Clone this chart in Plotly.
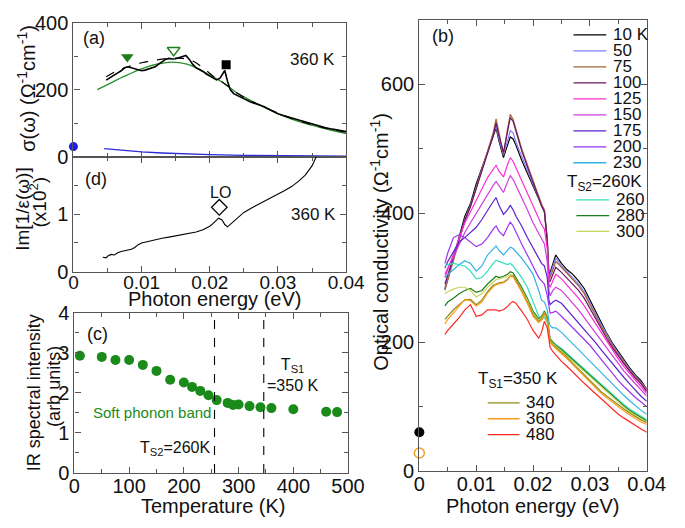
import plotly.graph_objects as go

FONT = "Liberation Sans, Arial, Helvetica, sans-serif"
W, H = 685, 528

# ---------------- Panel (a): 360 K conductivity and fits ----------------
energy_a_exp = [0.0048, 0.0055, 0.006, 0.0065, 0.007, 0.0075, 0.008, 0.0085, 0.009, 0.0095,
                0.010, 0.0105, 0.011, 0.0115, 0.012, 0.0125, 0.013, 0.0135, 0.014, 0.0145,
                0.015, 0.0155, 0.016, 0.0165, 0.017, 0.0175, 0.018, 0.0185, 0.019, 0.0195,
                0.020, 0.0205, 0.021, 0.0215, 0.022, 0.0222, 0.0226, 0.023, 0.0235, 0.024,
                0.025, 0.026, 0.027, 0.028, 0.029, 0.030, 0.031, 0.032, 0.033, 0.034,
                0.035, 0.036, 0.037, 0.038, 0.039, 0.040]
sigma_a_exp = [228, 238, 244, 250, 256, 265, 268, 265, 262, 258,
               256, 258, 262, 265, 268, 276, 284, 290, 293, 291,
               292, 296, 300, 302, 290, 275, 265, 260, 254, 246,
               240, 234, 229, 234, 250, 257, 225, 200, 188, 183,
               172, 163, 156, 149, 138, 128, 121, 115, 109, 102,
               96, 91, 86, 82, 78, 75]
energy_a_fit = [0.0048, 0.006, 0.008, 0.010, 0.012, 0.014, 0.016, 0.0175, 0.019, 0.0205,
                0.022, 0.024, 0.026, 0.028, 0.030, 0.032, 0.034, 0.036, 0.038, 0.040]
sigma_a_fit = [238, 252, 268, 280, 288, 293, 293, 285, 265, 240,
               220, 190, 166, 148, 130, 114, 101, 90, 81, 73]
energy_a_soft = [0.0035, 0.005, 0.0075, 0.010, 0.0125, 0.0145, 0.0165, 0.018, 0.020, 0.022,
                 0.024, 0.026, 0.028, 0.030, 0.032, 0.034, 0.036, 0.038, 0.040]
sigma_a_soft = [200, 215, 240, 262, 277, 282, 277, 265, 243, 220,
                190, 168, 147, 128, 112, 99, 88, 78, 69]
energy_a_drude = [0.0045, 0.006, 0.008, 0.010, 0.013, 0.016, 0.020, 0.025, 0.030, 0.035, 0.040]
sigma_a_drude = [24, 21, 17, 14, 11, 8, 6, 4, 3, 2, 1.5]
dc_a = [0.0, 30]
mark_soft_low = [0.0079, 297]
mark_soft_peak = [0.0147, 317]
mark_phonon = [0.0224, 274]

# ---------------- Panel (d): loss function ----------------
energy_d = [0.0043, 0.0048, 0.005, 0.0055, 0.006, 0.0065, 0.007, 0.0075, 0.008, 0.0085,
            0.009, 0.0095, 0.010, 0.011, 0.012, 0.013, 0.014, 0.015, 0.016, 0.017,
            0.018, 0.019, 0.020, 0.0205, 0.021, 0.0213, 0.0218, 0.0222, 0.0226, 0.023,
            0.024, 0.025, 0.026, 0.027, 0.028, 0.029, 0.030, 0.031, 0.032, 0.033,
            0.034, 0.035, 0.0355, 0.0358]
loss_d = [0.25, 0.24, 0.27, 0.30, 0.29, 0.33, 0.35, 0.36, 0.38, 0.39,
          0.42, 0.47, 0.50, 0.53, 0.55, 0.58, 0.60, 0.62, 0.64, 0.66,
          0.69, 0.73, 0.79, 0.84, 0.90, 0.93, 0.90, 0.82, 0.78, 0.82,
          0.93, 1.03, 1.10, 1.16, 1.22, 1.28, 1.34, 1.41, 1.48, 1.57,
          1.68, 1.84, 1.97, 2.05]
lo_mark = [0.0214, 1.12]

# ---------------- Panel (c): spectral intensity ----------------
temps_c = [10, 50, 75, 100, 125, 150, 175, 200, 215, 230, 245, 260, 280, 290, 300,
           320, 340, 360, 400, 460, 480]
intensity_c = [2.93, 2.90, 2.82, 2.82, 2.70, 2.55, 2.33, 2.26, 2.15, 2.05, 1.94, 1.82,
               1.75, 1.70, 1.71, 1.67, 1.64, 1.62, 1.59, 1.53, 1.52]
ts_lines = [256, 346]

# ---------------- Panel (b): temperature-dependent conductivity ----------------
energy_b = [0.0045, 0.005, 0.006, 0.007, 0.008, 0.009, 0.010, 0.011, 0.012, 0.013,
            0.0135, 0.014, 0.0148, 0.0155, 0.016, 0.0165, 0.017,
            0.018, 0.019, 0.020, 0.021, 0.0215, 0.022, 0.0225, 0.0228, 0.023, 0.0235, 0.024,
            0.025, 0.026, 0.027, 0.028, 0.029, 0.030, 0.031, 0.032, 0.033, 0.034,
            0.035, 0.036, 0.037, 0.038, 0.039, 0.040]
sigma_10K = [282, 298, 330, 362, 395, 415, 445, 470, 495, 520,
             532, 512, 486, 505, 518, 515, 505,
             482, 462, 442, 420, 410, 402, 360, 305, 308, 322, 335,
             322, 312, 305, 295, 283, 265, 248, 230, 213, 198, 185, 172, 160, 149, 140, 127]
sigma_50K = [285, 300, 330, 360, 390, 412, 442, 468, 494, 520,
             535, 515, 490, 512, 528, 524, 510,
             488, 466, 445, 422, 412, 404, 360, 302, 304, 318, 330,
             318, 309, 300, 290, 278, 260, 244, 227, 211, 196, 183, 170, 158, 147, 138, 126]
sigma_75K = [280, 296, 328, 358, 388, 410, 440, 468, 496, 525,
             546, 525, 491, 530, 553, 545, 530,
             500, 475, 450, 425, 414, 405, 358, 298, 300, 312, 325,
             316, 306, 297, 287, 275, 257, 241, 224, 208, 194, 181, 168, 157, 146, 137, 125]
sigma_100K = [290, 304, 332, 360, 388, 410, 438, 465, 492, 520,
              540, 520, 494, 528, 548, 542, 526,
              497, 472, 447, 422, 411, 402, 355, 294, 294, 305, 316,
              308, 299, 290, 280, 268, 252, 236, 220, 205, 191, 178, 166, 155, 144, 135, 123]
sigma_125K = [300, 312, 335, 360, 385, 402, 420, 438, 455, 468,
              474, 465, 456, 475, 486, 480, 470,
              450, 430, 410, 390, 382, 375, 345, 290, 285, 295, 305,
              298, 288, 278, 268, 256, 242, 228, 214, 200, 187, 174, 162, 151, 141, 131, 120]
sigma_150K = [305, 315, 332, 350, 370, 385, 400, 415, 430, 443,
              449, 442, 432, 448, 458, 452, 443,
              425, 405, 385, 368, 360, 352, 325, 280, 272, 280, 285,
              280, 270, 260, 250, 238, 226, 214, 202, 190, 178, 166, 155, 145, 135, 125, 116]
sigma_175K = [315, 325, 340, 355, 362, 370, 378, 390, 405, 418,
              424, 412, 398, 405, 412, 405, 395,
              380, 362, 345, 330, 322, 318, 300, 265, 258, 262, 265,
              260, 250, 240, 230, 220, 210, 199, 188, 177, 166, 155, 145, 135, 125, 116, 108]
sigma_200K = [322, 338, 362, 366, 362, 355, 348, 352, 362, 375,
              380, 372, 365, 378, 386, 380, 370,
              352, 335, 318, 300, 295, 290, 272, 250, 245, 246, 248,
              240, 231, 222, 213, 204, 195, 184, 173, 162, 151, 140, 131, 122, 114, 107, 100]
sigma_230K = [300, 305, 312, 320, 326, 322, 310, 318, 335, 345,
              349, 342, 335, 342, 347, 345, 340,
              330, 318, 305, 280, 265, 262, 250, 232, 225, 222, 222,
              215, 206, 197, 188, 180, 171, 161, 152, 143, 134, 125, 117, 109, 101, 94, 88]
sigma_260K = [318, 320, 322, 320, 318, 310, 298, 300, 310, 322,
              327, 325, 322, 320, 322, 318, 312,
              300, 285, 262, 240, 235, 238, 230, 214, 205, 200, 196,
              190, 182, 174, 166, 158, 150, 142, 134, 126, 118, 110, 103, 96, 90, 85, 80]
sigma_280K = [256, 262, 268, 275, 280, 283, 277, 280, 290, 298,
              302, 300, 302, 305, 309, 307, 300,
              285, 268, 248, 236, 240, 248, 238, 218, 205, 200, 195,
              188, 180, 172, 164, 156, 148, 140, 132, 124, 116, 108, 101, 94, 88, 83, 78]
sigma_300K = [275, 278, 282, 285, 285, 280, 270, 275, 285, 293,
              297, 298, 300, 302, 305, 303, 297,
              282, 265, 245, 234, 238, 246, 236, 215, 203, 198, 194,
              186, 178, 170, 162, 154, 146, 138, 130, 122, 114, 106, 99, 92, 86, 81, 76]
sigma_340K = [235, 240, 250, 258, 265, 266, 258, 265, 278, 288,
              290, 292, 293, 297, 302, 303, 296,
              280, 262, 243, 232, 236, 245, 235, 212, 202, 196, 192,
              185, 176, 167, 158, 149, 140, 131, 123, 116, 109, 102, 96, 90, 84, 79, 75]
sigma_360K = [228, 235, 245, 255, 266, 264, 256, 262, 276, 286,
              289, 290, 292, 296, 302, 301, 294,
              278, 260, 240, 230, 234, 243, 232, 210, 200, 194, 190,
              183, 174, 165, 156, 146, 137, 128, 120, 113, 106, 99, 93, 87, 81, 76, 72]
sigma_480K = [212, 218, 228, 238, 250, 258, 240, 242, 250, 250,
              250, 248, 250, 255, 260, 263, 260,
              248, 235, 218, 206, 215, 232, 222, 200, 192, 185, 180,
              170, 162, 153, 145, 136, 128, 120, 112, 104, 96, 88, 82, 76, 70, 65, 60]
dc_b_10K = [0.0, 60]
dc_b_360K = [0.0, 28]

labels_b = ["10 K", "50", "75", "100", "125", "150", "175", "200", "230",
            "260", "280", "300", "340", "360", "480"]
series_b = [sigma_10K, sigma_50K, sigma_75K, sigma_100K, sigma_125K, sigma_150K,
            sigma_175K, sigma_200K, sigma_230K, sigma_260K, sigma_280K, sigma_300K,
            sigma_340K, sigma_360K, sigma_480K]
colors_b = ["#000000", "#7f7fff", "#a5653a", "#6e1464", "#ff2ad4", "#d23ce0",
            "#5a23cf", "#9a33f2", "#2fb2e6", "#2fe0b8", "#1c7d1c", "#c8d45a",
            "#8c8a14", "#ff9a1a", "#ff2626"]

# ---------------- figure ----------------
def pxx(x):
    return x / W


def pxy(y):
    return 1 - y / H


TICK = 20
TITLE = 20
NOTE = 17
SMALL = 15

fig = go.Figure()

AX = dict(showline=True, linecolor="#555", linewidth=1.3, mirror="allticks",
          ticks="inside", ticklen=6, tickwidth=1.2, tickcolor="#555",
          showgrid=False, zeroline=False,
          tickfont=dict(family=FONT, size=TICK, color="#111"))


def axis(**kw):
    d = dict(AX)
    d.update(kw)
    return d


MINOR = dict(ticks="inside", ticklen=4, tickwidth=1.1, tickcolor="#555", showgrid=False)


def minor(**kw):
    d = dict(MINOR)
    d.update(kw)
    return d


# panel (a)
fig.add_trace(go.Scatter(x=energy_a_drude, y=sigma_a_drude, mode="lines",
                         line=dict(color="#2b2bd9", width=1.3), xaxis="x", yaxis="y"))
fig.add_trace(go.Scatter(x=energy_a_soft, y=sigma_a_soft, mode="lines", line_shape="spline",
                         line=dict(color="#2a8f2a", width=1.3), xaxis="x", yaxis="y"))
fig.add_trace(go.Scatter(x=energy_a_fit, y=sigma_a_fit, mode="lines", line_shape="spline",
                         line=dict(color="#000", width=1.2, dash="dash"), xaxis="x", yaxis="y"))
fig.add_trace(go.Scatter(x=energy_a_exp, y=sigma_a_exp, mode="lines",
                         line=dict(color="#000", width=1.6), xaxis="x", yaxis="y"))
fig.add_trace(go.Scatter(x=[dc_a[0]], y=[dc_a[1]], mode="markers", cliponaxis=False,
                         marker=dict(color="#1a1aff", size=9), xaxis="x", yaxis="y"))
fig.add_trace(go.Scatter(x=[mark_soft_low[0]], y=[mark_soft_low[1]], mode="markers",
                         marker=dict(symbol="triangle-down", color="#1c7d1c", size=11),
                         xaxis="x", yaxis="y"))
fig.add_trace(go.Scatter(x=[mark_soft_peak[0]], y=[mark_soft_peak[1]], mode="markers",
                         marker=dict(symbol="triangle-down-open", color="#1c7d1c", size=11,
                                     line=dict(width=1.5)),
                         xaxis="x", yaxis="y"))
fig.add_trace(go.Scatter(x=[mark_phonon[0]], y=[mark_phonon[1]], mode="markers",
                         marker=dict(symbol="square", color="#000", size=9),
                         xaxis="x", yaxis="y"))

# panel (d)
fig.add_trace(go.Scatter(x=energy_d, y=loss_d, mode="lines",
                         line=dict(color="#000", width=1.1), xaxis="x2", yaxis="y2"))
fig.add_trace(go.Scatter(x=[lo_mark[0]], y=[lo_mark[1]], mode="markers",
                         marker=dict(symbol="diamond-open", color="#000", size=12,
                                     line=dict(width=1.2)),
                         xaxis="x2", yaxis="y2"))

# panel (c)
fig.add_trace(go.Scatter(x=temps_c, y=intensity_c, mode="markers",
                         marker=dict(color="#1a8a1a", size=10), xaxis="x3", yaxis="y3"))

# panel (b)
for lab, ser, col in zip(labels_b, series_b, colors_b):
    fig.add_trace(go.Scatter(x=energy_b, y=ser, mode="lines", name=lab,
                             line=dict(color=col, width=1.2), xaxis="x4", yaxis="y4"))
fig.add_trace(go.Scatter(x=[dc_b_10K[0]], y=[dc_b_10K[1]], mode="markers", cliponaxis=False,
                         marker=dict(color="#000", size=10), xaxis="x4", yaxis="y4"))
fig.add_trace(go.Scatter(x=[dc_b_360K[0]], y=[dc_b_360K[1]], mode="markers", cliponaxis=False,
                         marker=dict(symbol="circle-open", color="#f0a020", size=10,
                                     line=dict(width=1.5)),
                         xaxis="x4", yaxis="y4"))

dom_ad_x = [pxx(70), pxx(353)]
XSTAND = -5
fig.update_layout(
    width=W, height=H, margin=dict(l=0, r=0, t=0, b=0),
    paper_bgcolor="white", plot_bgcolor="white", showlegend=False,
    font=dict(family=FONT, size=NOTE, color="#111"),
    xaxis=axis(domain=dom_ad_x, anchor="y", range=[0, 0.04], dtick=0.01, tick0=0,
               showticklabels=False, minor=minor(dtick=0.005, tick0=0)),
    yaxis=axis(domain=[pxy(152), pxy(12)], anchor="x", range=[0, 400], dtick=200, tick0=0,
               minor=minor(dtick=100, tick0=0)),
    xaxis2=axis(domain=dom_ad_x, anchor="y2", range=[0, 0.04], dtick=0.01, tick0=0,
                ticklabelstandoff=-7, tickfont=dict(family=FONT, size=19, color="#111"),
                minor=minor(dtick=0.005, tick0=0)),
    yaxis2=axis(domain=[pxy(272), pxy(152)], anchor="x2", range=[0, 2],
                tickmode="array", tickvals=[0, 1], ticktext=["0", "1"],
                minor=minor(tickmode="array", tickvals=[0.5, 1.5])),
    xaxis3=axis(domain=[pxx(71), pxx(355)], anchor="y3", range=[0, 500], dtick=100, tick0=0,
                ticklabelstandoff=XSTAND, minor=minor(dtick=50, tick0=0)),
    yaxis3=axis(domain=[pxy(482), pxy(315)], anchor="x3", range=[0, 4], dtick=1, tick0=0,
                minor=minor(dtick=0.5, tick0=0)),
    xaxis4=axis(domain=[pxx(429), pxx(665)], anchor="y4", range=[0, 0.04], dtick=0.01, tick0=0,
                ticklabelstandoff=XSTAND, minor=minor(dtick=0.005, tick0=0)),
    yaxis4=axis(domain=[pxy(480), pxy(9)], anchor="x4", range=[0, 700], dtick=200, tick0=0,
                minor=minor(dtick=100, tick0=0)),
)

shapes = []
for t in ts_lines:
    shapes.append(dict(type="line", xref="x3", yref="y3 domain", x0=t, x1=t, y0=0, y1=1,
                       line=dict(color="#000", width=1.1, dash="dash")))

ann = []


def text(x, y, s, xref="paper", yref="paper", size=NOTE, color="#111", xanchor="center",
         yanchor="middle", angle=0):
    ann.append(dict(x=x, y=y, xref=xref, yref=yref, text=s, showarrow=False,
                    font=dict(family=FONT, size=size, color=color), xanchor=xanchor,
                    yanchor=yanchor, textangle=angle))


# axis titles
text(pxx(21), pxy(81), "σ(ω) (Ω<sup>-1</sup>cm<sup>-1</sup>)", size=TITLE, angle=-90)
text(pxx(17), pxy(207), "Im[1/ε(ω)]", size=19, angle=-90)
text(pxx(33), pxy(199), "(x10<sup>2</sup>)", size=19, angle=-90)
text(pxx(29), pxy(398), "IR spectral intensity", size=18, angle=-90)
text(pxx(49), pxy(392), "(arb units)", size=18, angle=-90)
text(pxx(388), pxy(241), "Optical conductivity (Ω<sup>-1</sup>cm<sup>-1</sup>)", size=TITLE, angle=-90)
text(pxx(216), pxy(301), "Photon energy (eV)", size=TITLE)
text(pxx(215), pxy(516), "Temperature (K)", size=TITLE)
text(pxx(546), pxy(516), "Photon energy (eV)", size=TITLE)

# panel labels and notes
text(0.0011, 354, "(a)", "x", "y", size=NOTE + 1, xanchor="left")
text(0.0351, 291, "360 K", "x", "y", size=NOTE)
text(0.0014, 1.62, "(d)", "x2", "y2", size=NOTE + 1, xanchor="left")
text(0.0215, 1.37, "LO", "x2", "y2", size=SMALL + 1)
text(0.0352, 1.0, "360 K", "x2", "y2", size=NOTE)
text(19, 3.48, "(c)", "x3", "y3", size=NOTE + 1, xanchor="left")
text(30, 1.5, "Soft phonon band", "x3", "y3", size=SMALL, color="#1a8a1a", xanchor="left")
text(349, 2.45, "T<sub>S1</sub><br>=350 K", "x3", "y3", size=SMALL + 1, xanchor="left")
text(253, 0.6, "T<sub>S2</sub>=260K", "x3", "y3", size=SMALL + 1, xanchor="right")
text(pxx(440), pxy(26), "(b)", size=NOTE + 1, xanchor="left")

# hand-made legends for panel (b)
top_rows = [25 + 16.67 * i for i in range(9)]
for i, yy in enumerate(top_rows):
    shapes.append(dict(type="line", xref="paper", yref="paper", x0=pxx(589), x1=pxx(623),
                       y0=pxy(yy), y1=pxy(yy), line=dict(color=colors_b[i], width=1.3)))
    text(pxx(628), pxy(yy), labels_b[i], size=NOTE, xanchor="left")
text(pxx(580), pxy(180), "T<sub>S2</sub>=260K", size=NOTE, xanchor="left")
for j, yy in enumerate([197, 213.5, 230]):
    i = 9 + j
    shapes.append(dict(type="line", xref="paper", yref="paper", x0=pxx(592), x1=pxx(626),
                       y0=pxy(yy), y1=pxy(yy), line=dict(color=colors_b[i], width=1.3)))
    text(pxx(631), pxy(yy), labels_b[i], size=NOTE, xanchor="left")
text(pxx(488), pxy(385), "T<sub>S1</sub>=350 K", size=NOTE, xanchor="left")
for j, yy in enumerate([409, 425.5, 442]):
    i = 12 + j
    shapes.append(dict(type="line", xref="paper", yref="paper", x0=pxx(500), x1=pxx(533),
                       y0=pxy(yy), y1=pxy(yy), line=dict(color=colors_b[i], width=1.3)))
    text(pxx(538), pxy(yy), labels_b[i], size=NOTE, xanchor="left")

fig.update_layout(shapes=shapes, annotations=ann)
fig.write_html("out.html", config={"displayModeBar": False},
               post_script="document.body.style.margin='0px';")
